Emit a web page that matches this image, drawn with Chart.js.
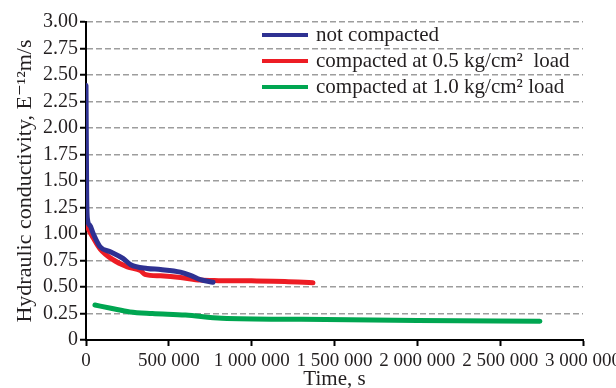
<!DOCTYPE html>
<html>
<head>
<meta charset="utf-8">
<script src="https://cdn.jsdelivr.net/npm/chart.js@4.4.1/dist/chart.umd.min.js"></script>
<style>
  html, body { margin: 0; padding: 0; background: #fff; }
  #wrap { width: 616px; height: 388px; }
</style>
</head>
<body>
<div id="wrap"><canvas id="myChart" width="616" height="388"></canvas></div>
<script>
// time (s) and hydraulic conductivity (E-12 m/s) for each sample
const timeNotCompacted = [0, 4000, 8000, 24000, 42000, 85000, 150000, 223000, 270000, 370000, 450000, 570000, 630000, 690000, 767000];
const kNotCompacted    = [2.40, 1.40, 1.15, 1.08, 1.01, 0.88, 0.83, 0.77, 0.71, 0.675, 0.665, 0.64, 0.61, 0.57, 0.545];

const timeHalfLoad = [0, 20000, 45000, 85000, 160000, 250000, 330000, 355000, 450000, 570000, 690000, 800000, 1000000, 1200000, 1370000];
const kHalfLoad    = [1.10, 1.03, 0.96, 0.86, 0.76, 0.69, 0.655, 0.62, 0.605, 0.59, 0.565, 0.56, 0.558, 0.553, 0.54];

const timeFullLoad = [54000, 150000, 265000, 400000, 600000, 820000, 1300000, 2000000, 2740000];
const kFullLoad    = [0.33, 0.30, 0.265, 0.25, 0.235, 0.205, 0.195, 0.185, 0.178];

const seriesLabels = ['not compacted', 'compacted at 0.5 kg/cm\u00B2  load', 'compacted at 1.0 kg/cm\u00B2 load'];
const seriesColors = ['#2e3192', '#ed1c24', '#00a651'];

const yTitle = 'Hydraulic conductivity, E\u207B\u00B9\u00B2m/s';
const xTitle = 'Time, s';

const serif = "'Liberation Serif', 'DejaVu Serif', serif";
const textColor = '#231f20';

const toPoints = (xs, ys) => xs.map((x, i) => ({ x: x, y: ys[i] }));

// legend drawn as a short list in the top right of the plot
const lineLegend = {
  id: 'lineLegend',
  afterDraw(chart) {
    const ctx = chart.ctx;
    ctx.save();
    ctx.font = '21px ' + serif;
    ctx.fillStyle = textColor;
    ctx.textBaseline = 'middle';
    chart.data.datasets.forEach((ds, i) => {
      const y = 35 + i * 26;
      ctx.strokeStyle = ds.borderColor;
      ctx.lineWidth = 4;
      ctx.beginPath();
      ctx.moveTo(262, y);
      ctx.lineTo(308, y);
      ctx.stroke();
      ctx.fillText(ds.label, 316, y);
    });
    ctx.restore();
  }
};

const initChart = () => {
  const ctx = document.getElementById('myChart').getContext('2d');
  const datasets = [
    toPoints(timeNotCompacted, kNotCompacted),
    toPoints(timeHalfLoad, kHalfLoad),
    toPoints(timeFullLoad, kFullLoad)
  ].map((pts, i) => ({
    label: seriesLabels[i],
    data: pts,
    borderColor: seriesColors[i],
    backgroundColor: seriesColors[i],
    borderWidth: 5,
    borderCapStyle: 'round',
    borderJoinStyle: 'round',
    pointRadius: 0,
    tension: 0.3,
    cubicInterpolationMode: 'monotone',
    fill: false
  }));

  new Chart(ctx, {
    type: 'line',
    data: { datasets: datasets },
    options: {
      responsive: false,
      animation: false,
      layout: { padding: { left: 0, right: 33, top: 22, bottom: 0 } },
      plugins: {
        legend: { display: false },
        tooltip: { enabled: false }
      },
      scales: {
        x: {
          type: 'linear',
          min: 0,
          max: 3000000,
          ticks: {
            stepSize: 500000,
            autoSkip: false,
            color: textColor,
            padding: 4,
            maxRotation: 0,
            font: { family: serif, size: 19 },
            callback: (v) => String(v).replace(/\B(?=(\d{3})+(?!\d))/g, ' ')
          },
          grid: { drawOnChartArea: false, drawTicks: true, tickLength: 6, tickColor: '#000', tickWidth: 2 },
          border: { display: true, color: '#000', width: 2 },
          title: { display: true, text: xTitle, color: textColor, font: { family: serif, size: 21 }, padding: { top: 0, bottom: -4 } },
          afterFit(scale) {
            scale.paddingLeft = 0;
            scale.paddingRight = 0;
            scale.height = 48;
          }
        },
        y: {
          min: 0,
          max: 3,
          ticks: {
            stepSize: 0.25,
            autoSkip: false,
            color: textColor,
            padding: 2,
            font: { family: serif, size: 20 },
            callback: (v) => v === 0 ? '0' : v.toFixed(2)
          },
          grid: { color: '#9d9d9d', lineWidth: 1.5, drawTicks: true, tickLength: 6, tickColor: '#000', tickWidth: 2, tickBorderDash: [] },
          border: { display: true, color: '#000', width: 2, dash: [6, 3] },
          title: { display: true, text: yTitle, color: textColor, font: { family: serif, size: 22 }, padding: { top: 12, bottom: 0 } },
          afterFit(scale) {
            scale.paddingTop = 0;
            scale.paddingBottom = 0;
            scale.width = 86;
          }
        }
      }
    },
    plugins: [lineLegend]
  });
};

initChart();
</script>
</body>
</html>
